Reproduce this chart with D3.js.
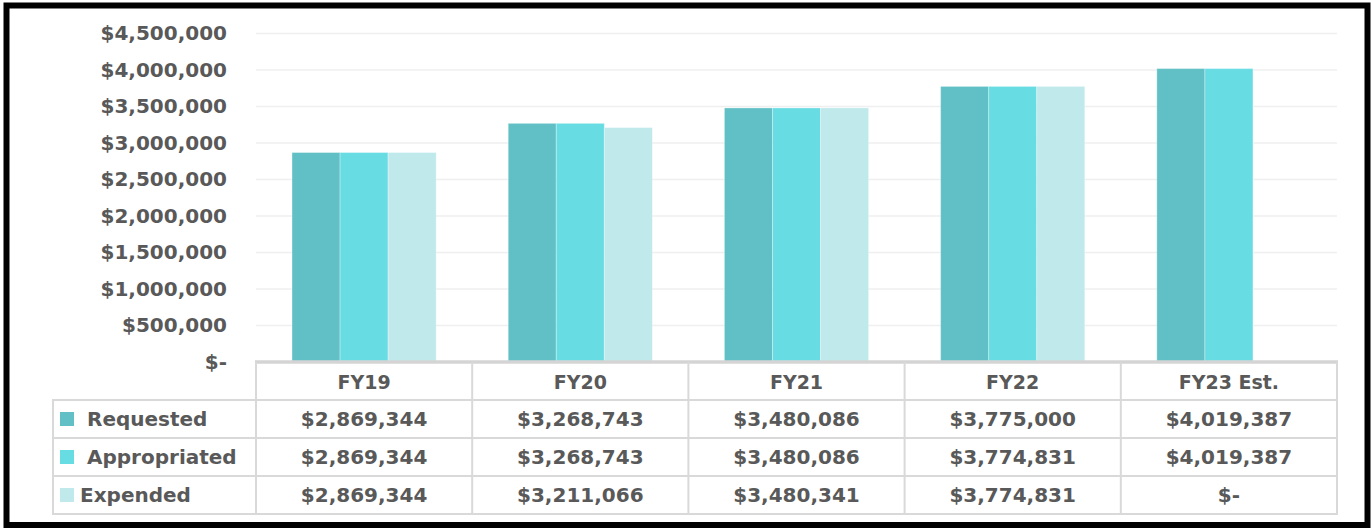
<!DOCTYPE html>
<html><head><meta charset="utf-8">
<script src="https://cdn.jsdelivr.net/npm/d3@7"></script>
<style>
html,body{margin:0;padding:0;background:#fff;}
svg{display:block;}
text{font-family:"DejaVu Sans",sans-serif;font-weight:700;fill:#595959;}
</style></head>
<body>
<script>
const categories = ["FY19","FY20","FY21","FY22","FY23 Est."];
const seriesNames = ["Requested","Appropriated","Expended"];
const requested = [2869344,3268743,3480086,3775000,4019387];
const appropriated = [2869344,3268743,3480086,3774831,4019387];
const expended = [2869344,3211066,3480341,3774831,0];
const yTicks = [0,500000,1000000,1500000,2000000,2500000,3000000,3500000,4000000,4500000];
const colors = ["#61c0c5","#68dce3","#bfe9eb"];

const W = 1371, H = 529;
const svg = d3.select("body").append("svg").attr("width", W).attr("height", H);

const series = [requested, appropriated, expended];
const x = d3.scaleBand().domain(categories).range([256, 1337]).paddingInner(0).paddingOuter(0);
const xs = d3.scaleBand().domain(seriesNames).range([0, x.bandwidth()]).paddingInner(0).paddingOuter(0.75);
const y = d3.scaleLinear().domain([0, 4500000]).range([362, 33.5]);

const fmt = v => v === 0 ? "$-" : "$" + d3.format(",")(v);

// gridlines
svg.append("g").selectAll("line").data(yTicks.filter(d => d > 0)).join("line")
  .attr("x1", 256).attr("x2", 1337)
  .attr("y1", d => y(d)).attr("y2", d => y(d))
  .attr("stroke", "#efefef").attr("stroke-width", 1.5);

// y axis labels
const yAxis = d3.axisLeft(y).tickValues(yTicks).tickFormat(fmt).tickSize(0).tickPadding(0);
const ga = svg.append("g").attr("transform", "translate(227,0)").call(yAxis);
ga.select(".domain").remove();
ga.selectAll("text").attr("font-size", 20).attr("fill", "#595959")
  .style("font-family", '"DejaVu Sans",sans-serif').style("font-weight", 700);

// bars
const bars = svg.append("g");
series.forEach((vals, si) => {
  bars.selectAll(null).data(categories.map((c, i) => ({c, v: vals[i]})).filter(d => d.v > 0)).join("rect")
    .attr("x", d => x(d.c) + xs(seriesNames[si]))
    .attr("width", xs.bandwidth())
    .attr("y", d => y(d.v))
    .attr("height", d => y(0) - y(d.v))
    .attr("fill", colors[si])
    .attr("stroke", "#ffffff").attr("stroke-opacity", 0.3).attr("stroke-width", 1);
});

// table
const rowH = 38, tableTop = 362;
const tbl = svg.append("g");
const lineColor = "#d9d9d9";
tbl.append("line").attr("x1", 255).attr("x2", 1338).attr("y1", tableTop).attr("y2", tableTop)
  .attr("stroke", "#d4d4d4").attr("stroke-width", 3.5);
[1,2,3,4].forEach(r => {
  tbl.append("line").attr("x1", 52).attr("x2", 1338)
    .attr("y1", tableTop + r*rowH).attr("y2", tableTop + r*rowH)
    .attr("stroke", lineColor).attr("stroke-width", 2);
});
const vx = [256].concat(categories.map(c => x(c) + x.bandwidth()));
vx.forEach(v => {
  tbl.append("line").attr("x1", v).attr("x2", v).attr("y1", tableTop).attr("y2", tableTop + 4*rowH)
    .attr("stroke", lineColor).attr("stroke-width", 2);
});
tbl.append("line").attr("x1", 53).attr("x2", 53).attr("y1", tableTop + rowH).attr("y2", tableTop + 4*rowH)
  .attr("stroke", lineColor).attr("stroke-width", 2);

tbl.selectAll("text.hdr").data(categories).join("text").attr("class", "hdr")
  .attr("x", d => x(d) + x.bandwidth()/2).attr("y", tableTop + rowH/2 + 1)
  .attr("text-anchor", "middle").attr("dominant-baseline", "central")
  .attr("font-size", 19).text(d => d);

const labelX = [87, 87, 80];
series.forEach((vals, si) => {
  const cy = tableTop + rowH*(si+1) + rowH/2;
  tbl.append("rect").attr("x", 60).attr("y", cy - 7).attr("width", 14).attr("height", 14).attr("fill", colors[si]);
  tbl.append("text").attr("x", labelX[si]).attr("y", cy).attr("dominant-baseline", "central")
    .attr("font-size", 20).text(seriesNames[si]);
  tbl.selectAll(null).data(categories.map((c, i) => ({c, v: vals[i]}))).join("text")
    .attr("x", d => x(d.c) + x.bandwidth()/2).attr("y", cy)
    .attr("text-anchor", "middle").attr("dominant-baseline", "central")
    .attr("font-size", 20).text(d => fmt(d.v));
});

svg.append("rect").attr("x", 6.5).attr("y", 5.5).attr("width", W - 10).attr("height", H - 9.5)
  .attr("fill", "none").attr("stroke", "#000").attr("stroke-width", 6);
</script>
</body></html>
